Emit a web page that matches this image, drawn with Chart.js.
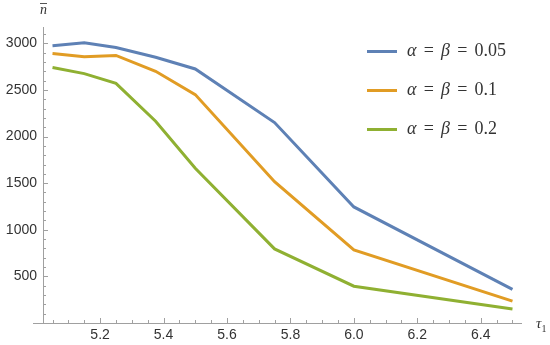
<!DOCTYPE html>
<html>
<head>
<meta charset="utf-8">
<script src="https://cdn.jsdelivr.net/npm/chart.js@4.4.1/dist/chart.umd.min.js"></script>
<style>
  html, body { margin: 0; padding: 0; background: #fff; }
  #wrap { position: relative; width: 550px; height: 345px; }
  canvas { position: absolute; left: 0; top: 0; }
  .lbl { position: absolute; font-family: "Liberation Serif", "DejaVu Serif", serif; color: #333; white-space: nowrap; line-height: 1; }
  .leg { position: absolute; left: 367px; font-family: "Liberation Serif", "DejaVu Serif", serif; font-size: 18px; color: #333; white-space: nowrap; line-height: 20px; }
  .leg .sw { display: inline-block; width: 30px; height: 3px; vertical-align: middle; margin-right: 10px; }
  .leg .eq { margin: 0 0.4em; }
</style>
</head>
<body>
<div id="wrap">
  <canvas id="tauChart" width="550" height="345"></canvas>
  <div class="lbl" style="left:40px; top:3px; font-size:14px;"><i style="border-top:1px solid #555; padding-top:0px; display:inline-block; line-height:11px;">n</i></div>
  <div class="lbl" style="left:536px; top:316px; font-size:15px;"><i>τ</i><sub style="font-size:10px;">1</sub></div>
  <div id="legend"></div>
</div>
<script>
// tau_1 values on the x axis
var taus = [5.05, 5.15, 5.25, 5.375, 5.5, 5.75, 6.0, 6.5];

// mean sample size for each alpha = beta level
var n005 = [2975, 3005, 2955, 2850, 2725, 2150, 1245, 360];
var n01  = [2890, 2855, 2870, 2700, 2450, 1515, 785, 235];
var n02  = [2740, 2675, 2570, 2165, 1660, 795, 395, 150];

var seriesNames = ['0.05', '0.1', '0.2'];
var seriesColors = ['#5E81B5', '#E19C24', '#8FB032'];

var xTicks = [5.2, 5.4, 5.6, 5.8, 6.0, 6.2, 6.4];
var yTicks = [500, 1000, 1500, 2000, 2500, 3000];

function toPoints(vals) {
    return vals.map(function (v, i) { return { x: taus[i], y: v }; });
}

// html legend, so the greek letters can be italic
var legendBox = document.getElementById('legend');
seriesNames.forEach(function (name, i) {
    var row = document.createElement('div');
    row.className = 'leg';
    row.style.top = (40 + i * 39) + 'px';
    row.innerHTML = '<span class="sw" style="background:' + seriesColors[i] + '"></span>' +
        '<i>α</i><span class="eq">=</span><i>β</i><span class="eq">=</span>' + name;
    legendBox.appendChild(row);
});

// axes with inward ticks, drawn like Mathematica
var axesPlugin = {
    id: 'mmaAxes',
    afterDraw: function (chart) {
        var ctx = chart.ctx;
        var xs = chart.scales.x, ys = chart.scales.y;
        var x0 = chart.chartArea.left, y0 = chart.chartArea.bottom;
        ctx.save();
        ctx.strokeStyle = '#a0a0a0';
        ctx.lineWidth = 1;
        ctx.beginPath();
        ctx.moveTo(x0 - 10, y0 + 0.5);
        ctx.lineTo(chart.chartArea.right, y0 + 0.5);
        ctx.moveTo(x0 + 0.5, y0);
        ctx.lineTo(x0 + 0.5, chart.chartArea.top);
        // x ticks every 0.05, major every 0.2
        for (var k = 101; k <= 130; k++) {
            var v = k * 0.05;
            var px = Math.round(xs.getPixelForValue(v)) + 0.5;
            var major = (k % 4 === 0);
            ctx.moveTo(px, y0);
            ctx.lineTo(px, y0 - (major ? 5 : 3));
        }
        // y ticks every 100, major every 500
        for (var j = 1; j <= 31; j++) {
            var py = Math.round(ys.getPixelForValue(j * 100)) + 0.5;
            ctx.moveTo(x0, py);
            ctx.lineTo(x0 + (j % 5 === 0 ? 5 : 3), py);
        }
        ctx.stroke();
        ctx.restore();
    }
};

var ctx = document.getElementById('tauChart').getContext('2d');
var chart = new Chart(ctx, {
    type: 'line',
    data: {
        datasets: [n005, n01, n02].map(function (vals, i) {
            return {
                label: 'α = β = ' + seriesNames[i],
                data: toPoints(vals),
                borderColor: seriesColors[i],
                backgroundColor: seriesColors[i],
                borderWidth: 3,
                pointRadius: 0,
                tension: 0
            };
        })
    },
    options: {
        responsive: false,
        animation: false,
        layout: { padding: { top: 27, right: 28, left: 0, bottom: 0 } },
        plugins: {
            legend: { display: false },
            tooltip: { enabled: false }
        },
        scales: {
            x: {
                type: 'linear',
                min: 5.02,
                max: 6.53,
                grid: { display: false, drawTicks: false },
                border: { display: false },
                afterBuildTicks: function (scale) {
                    scale.ticks = xTicks.map(function (v) { return { value: v }; });
                },
                afterFit: function (scale) { scale.height = 22; },
                ticks: {
                    padding: 4,
                    color: '#333',
                    font: { family: 'Liberation Sans', size: 14 },
                    callback: function (v) { return v.toFixed(1); }
                }
            },
            y: {
                type: 'linear',
                min: 0,
                max: 3175,
                grid: { display: false, drawTicks: false },
                border: { display: false },
                afterBuildTicks: function (scale) {
                    scale.ticks = yTicks.map(function (v) { return { value: v }; });
                },
                afterFit: function (scale) { scale.width = 43; },
                ticks: {
                    padding: 6,
                    color: '#333',
                    font: { family: 'Liberation Sans', size: 14 },
                    callback: function (v) { return String(v); }
                }
            }
        }
    },
    plugins: [axesPlugin]
});
</script>
</body>
</html>
